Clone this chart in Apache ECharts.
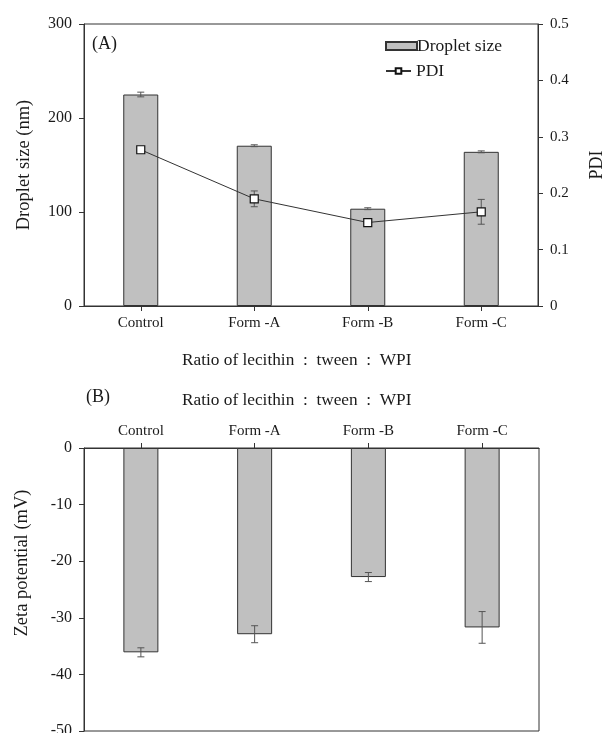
<!DOCTYPE html>
<html>
<head>
<meta charset="utf-8">
<script src="https://cdn.jsdelivr.net/npm/echarts@6/dist/echarts.min.js"></script>
<style>html,body{margin:0;padding:0;background:#fff;}#c{width:606px;height:733px;}</style>
</head>
<body>
<div id="c"></div>
<script>
var categories = ['Control', 'Form -A', 'Form -B', 'Form -C'];
var dropletSize = [225, 170.5, 103.5, 164];
var dropletErr = [2.5, 1, 1, 1];
var pdi = [0.277, 0.190, 0.148, 0.167];
var pdiErr = [0.004, 0.014, 0.004, 0.022];
var zeta = [-36.1, -32.9, -22.8, -31.7];
var zetaErr = [0.8, 1.5, 0.8, 2.8];
var xAxisTitle = 'Ratio of lecithin  :  tween  :  WPI';

var FONT = 'Liberation Serif';
var TXT = '#1a1a1a';

function errData(vals, errs) {
  return vals.map(function (v, i) { return [i, v - errs[i], v + errs[i]]; });
}
function errSeries(name, xi, yi, data) {
  return {
    type: 'custom', name: name, xAxisIndex: xi, yAxisIndex: yi, z: 5,
    data: data, silent: true,
    renderItem: function (params, api) {
      var lo = api.coord([api.value(0), api.value(1)]);
      var hi = api.coord([api.value(0), api.value(2)]);
      var w = 3.5;
      var st = { stroke: '#555', lineWidth: 1 };
      return { type: 'group', children: [
        { type: 'line', shape: { x1: lo[0], y1: lo[1], x2: hi[0], y2: hi[1] }, style: st },
        { type: 'line', shape: { x1: lo[0] - w, y1: lo[1], x2: lo[0] + w, y2: lo[1] }, style: st },
        { type: 'line', shape: { x1: hi[0] - w, y1: hi[1], x2: hi[0] + w, y2: hi[1] }, style: st }
      ]};
    }
  };
}

var catLabel = { fontFamily: FONT, fontSize: 15, color: TXT };
var yLabel = { fontFamily: FONT, fontSize: 16, color: TXT, margin: 12 };
var yLabelR = { fontFamily: FONT, fontSize: 15, color: TXT, margin: 12 };
var axisLine = { show: true, lineStyle: { color: '#333', width: 1 } };
var axisTick = { show: true, length: 5, lineStyle: { color: '#333' } };
var legendText = { fontFamily: FONT, fontSize: 17.5, color: TXT };

var chart = echarts.init(document.getElementById('c'));
chart.setOption({
  animation: false,
  backgroundColor: '#fff',
  grid: [
    { left: 84, right: 68, top: 24, height: 282, show: true, borderColor: '#333', borderWidth: 1,
      backgroundColor: 'transparent', outerBoundsMode: 'none', containLabel: false },
    { left: 84, right: 67, top: 448, height: 283, show: true, borderColor: '#333', borderWidth: 1,
      backgroundColor: 'transparent', outerBoundsMode: 'none', containLabel: false }
  ],
  legend: [
    { left: 385, top: 37, padding: 0, itemWidth: 31, itemHeight: 8,
      textStyle: Object.assign({ padding: [0, 0, 0, -5] }, legendText),
      data: [{ name: 'Droplet size', icon: 'rect' }] },
    { left: 385, top: 62, padding: 0, itemWidth: 25, itemHeight: 7,
      textStyle: legendText,
      data: [{ name: 'PDI' }] }
  ],
  graphic: [
    { type: 'text', x: 92, y: 44, style: { text: '(A)', fontFamily: FONT, fontSize: 18, fill: TXT, verticalAlign: 'middle' } },
    { type: 'text', x: 86, y: 397, style: { text: '(B)', fontFamily: FONT, fontSize: 18, fill: TXT, verticalAlign: 'middle' } },
    { type: 'text', x: 182, y: 360, style: { text: xAxisTitle, fontFamily: FONT, fontSize: 17.3, fill: TXT, verticalAlign: 'middle' } },
    { type: 'text', x: 182, y: 400, style: { text: xAxisTitle, fontFamily: FONT, fontSize: 17.3, fill: TXT, verticalAlign: 'middle' } },
    { type: 'text', x: 22, y: 563, rotation: Math.PI / 2,
      style: { text: 'Zeta potential (mV)', fontFamily: FONT, fontSize: 18.5, fill: TXT, align: 'center', verticalAlign: 'middle' } }
  ],
  xAxis: [
    { type: 'category', gridIndex: 0, data: categories, position: 'bottom',
      axisLine: axisLine, axisTick: { show: true, alignWithLabel: true, length: 5, lineStyle: { color: '#333' } },
      axisLabel: Object.assign({ margin: 10 }, catLabel) },
    { type: 'category', gridIndex: 1, data: categories, position: 'top',
      axisLine: axisLine, axisTick: { show: true, alignWithLabel: true, length: 5, lineStyle: { color: '#333' } },
      axisLabel: Object.assign({ margin: 9 }, catLabel) }
  ],
  yAxis: [
    { type: 'value', gridIndex: 0, min: 0, max: 300, interval: 100, position: 'left',
      axisLine: axisLine, axisTick: axisTick, splitLine: { show: false }, axisLabel: yLabel,
      name: 'Droplet size (nm)', nameLocation: 'middle', nameGap: 50,
      nameTextStyle: { fontFamily: FONT, fontSize: 18.5, color: TXT } },
    { type: 'value', gridIndex: 0, min: 0, max: 0.5, interval: 0.1, position: 'right',
      axisLine: axisLine, axisTick: axisTick, splitLine: { show: false }, axisLabel: yLabelR,
      name: 'PDI', nameLocation: 'middle', nameGap: 50,
      nameTextStyle: { fontFamily: FONT, fontSize: 18, color: TXT } },
    { type: 'value', gridIndex: 1, min: -50, max: 0, interval: 10, position: 'left',
      axisLine: axisLine, axisTick: axisTick, splitLine: { show: false }, axisLabel: yLabel }
  ],
  series: [
    { type: 'bar', name: 'Droplet size', xAxisIndex: 0, yAxisIndex: 0, data: dropletSize, barWidth: 35,
      itemStyle: { color: '#c0c0c0', borderColor: '#333', borderWidth: 1 } },
    errSeries('dsErr', 0, 0, errData(dropletSize, dropletErr)),
    { type: 'line', name: 'PDI', xAxisIndex: 0, yAxisIndex: 1, data: pdi, z: 6,
      symbol: 'rect', symbolSize: 8,
      lineStyle: { color: '#333', width: 1 },
      itemStyle: { color: '#fff', borderColor: '#111', borderWidth: 1.2 } },
    errSeries('pdiErr', 0, 1, errData(pdi, pdiErr)),
    { type: 'bar', name: 'Zeta', xAxisIndex: 1, yAxisIndex: 2, data: zeta, barWidth: 35,
      itemStyle: { color: '#c0c0c0', borderColor: '#333', borderWidth: 1 } },
    errSeries('zErr', 1, 2, errData(zeta, zetaErr))
  ]
});
</script>
</body>
</html>
